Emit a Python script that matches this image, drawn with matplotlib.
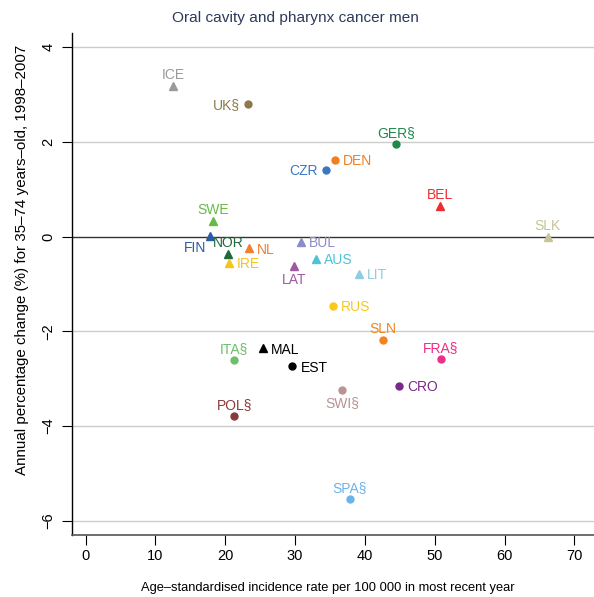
import matplotlib
matplotlib.use('Agg')
import matplotlib.pyplot as plt

plt.rcParams['font.family'] = ['Liberation Sans', 'DejaVu Sans']

# countries, incidence rate (x) and annual % change (y)
countries = ['ICE', 'UK§', 'CZR', 'DEN', 'SWE', 'FIN', 'NOR', 'NL', 'IRE', 'BUL',
             'AUS', 'LAT', 'LIT', 'GER§', 'BEL', 'SLK', 'RUS', 'SLN', 'ITA§', 'MAL',
             'EST', 'FRA§', 'CRO', 'SWI§', 'POL§', 'SPA§']
incidence = [12.5, 23.3, 34.4, 35.7, 18.2, 17.8, 20.4, 23.4, 20.5, 30.8,
             33.0, 29.9, 39.1, 44.4, 50.8, 66.2, 35.4, 42.6, 21.3, 25.4,
             29.6, 50.9, 44.9, 36.7, 21.3, 37.8]
change = [3.18, 2.81, 1.41, 1.62, 0.33, 0.02, -0.37, -0.25, -0.56, -0.11,
          -0.48, -0.63, -0.78, 1.95, 0.64, 0.00, -1.46, -2.19, -2.61, -2.36,
          -2.74, -2.59, -3.16, -3.23, -3.79, -5.54]
# triangle = one group, circle = other
shapes = ['^', 'o', 'o', 'o', '^', '^', '^', '^', '^', '^',
          '^', '^', '^', 'o', '^', '^', 'o', 'o', 'o', '^',
          'o', 'o', 'o', 'o', 'o', 'o']
colours = ['#9a9a9a', '#8b7b4a', '#3a78c2', '#f07f22', '#66bb44', '#2a5aa8', '#1e6b3a',
           '#f07f30', '#f5c518', '#8c8cc8', '#4cc3d6', '#9e5aa0', '#8ecde0', '#1e8a4a',
           '#ee2e2e', '#c8c496', '#f8c81e', '#ee8522', '#6cc06a', '#000000', '#000000',
           '#ee2e88', '#7a2a8a', '#b89494', '#8b3a3a', '#6cb4e8']

# where the label goes relative to its point
label_side = {'ICE': 'top', 'UK§': 'left', 'CZR': 'left', 'DEN': 'right', 'SWE': 'top',
              'FIN': 'botleft', 'NOR': 'top', 'NL': 'right', 'IRE': 'right', 'BUL': 'right',
              'AUS': 'right', 'LAT': 'bottom', 'LIT': 'right', 'GER§': 'top', 'BEL': 'top',
              'SLK': 'top', 'RUS': 'right', 'SLN': 'top', 'ITA§': 'top', 'MAL': 'right',
              'EST': 'right', 'FRA§': 'top', 'CRO': 'right', 'SWI§': 'bottom',
              'POL§': 'top', 'SPA§': 'top'}
offsets = {'top': ((0, 8), 'center'),
           'bottom': ((0, -9.5), 'center'),
           'left': ((-6, -0.8), 'right'),
           'right': ((6, -0.8), 'left'),
           'botleft': ((-2.5, -9), 'right')}

fig = plt.figure(figsize=(5.94, 5.97), dpi=100)
ax = fig.add_axes([72.3 / 594, 62 / 597, 1 - 72.3 / 594, (535 - 33) / 597])

for yv in [-6, -4, -2, 2, 4]:
    ax.axhline(yv, color='#cccccc', lw=1, zorder=0)
ax.axhline(0, color='#333333', lw=1, zorder=1)

for c, xv, yv, m, col in zip(countries, incidence, change, shapes, colours):
    ax.plot(xv, yv, marker=m, color=col, ms=5 if m == 'o' else 5.5, ls='none', zorder=3)
    (dx, dy), ha = offsets[label_side[c]]
    ax.annotate(c, (xv, yv), xytext=(dx, dy), textcoords='offset points',
                ha=ha, va='center', color=col, fontsize=10)

ax.set_xlim(-1.9, 72.8)
ax.set_ylim(-6.3, 4.3)
ax.set_xticks(range(0, 71, 10))
ax.set_yticks([-6, -4, -2, 0, 2, 4])
ax.set_yticklabels(['\u22126', '\u22124', '\u22122', '0', '2', '4'], rotation=90, va='center')

for s in ['top', 'right']:
    ax.spines[s].set_visible(False)
ax.spines['bottom'].set_color('#555555')
ax.spines['bottom'].set_linewidth(1.2)
ax.spines['left'].set_linewidth(1)
ax.tick_params(axis='both', direction='out', length=7, labelsize=10.5, width=0.8)
ax.tick_params(axis='y', pad=5)
ax.tick_params(axis='x', pad=3)

ax.set_xlabel('Age\u2013standardised incidence rate per 100 000 in most recent year',
              fontsize=9.3, va='center')
ax.xaxis.set_label_coords(0.49, -0.105)
ax.set_ylabel('Annual percentage change (%) for 35\u201374 years\u2013old, 1998\u20132007',
              fontsize=10.9, va='center')
ax.yaxis.set_label_coords(-0.0964, 0.548)
fig.text(0.497, 0.97, 'Oral cavity and pharynx cancer men', ha='center', va='center',
         fontsize=11.1, color='#2b3a5c')

fig.savefig('out.png', dpi=100)
